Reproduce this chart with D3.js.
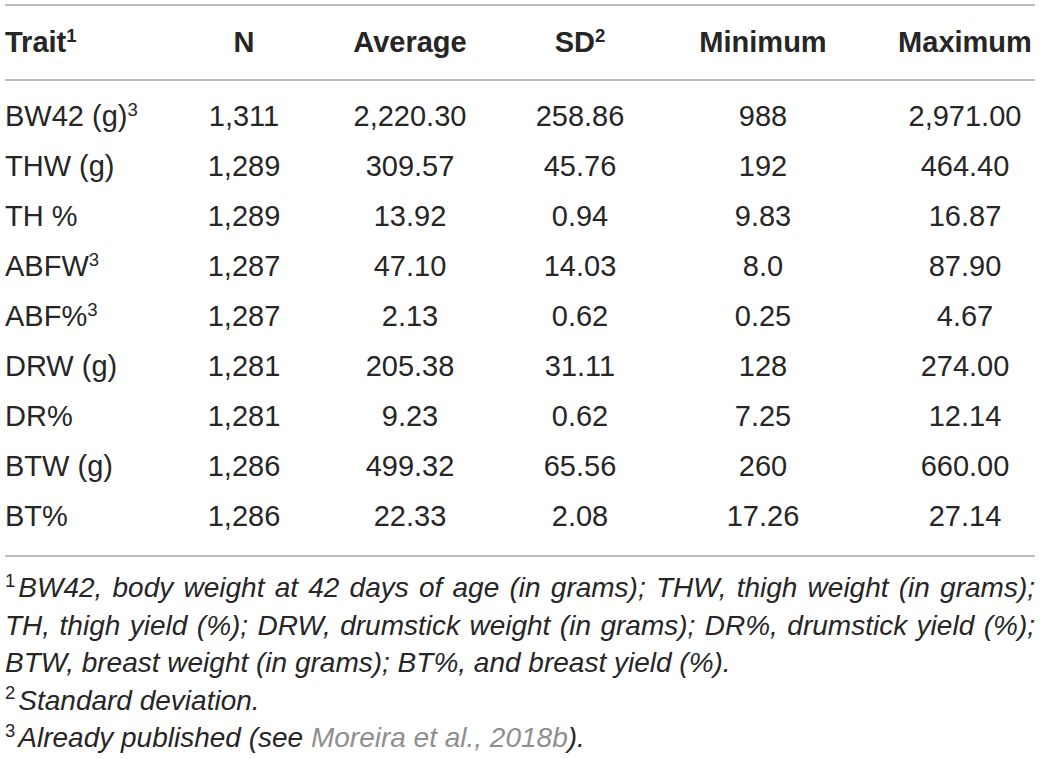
<!DOCTYPE html>
<html>
<head>
<meta charset="utf-8">
<script src="https://cdn.jsdelivr.net/npm/d3@7"></script>
<style>
  html, body { margin: 0; padding: 0; background: #fff; }
  svg text { font-family: "Liberation Sans", Arial, Helvetica, sans-serif; fill: #262626; }
</style>
</head>
<body>
<svg id="table" width="1040" height="759"></svg>
<script>
// table content
var headers = ['Trait', 'N', 'Average', 'SD', 'Minimum', 'Maximum'];
var headerNotes = ['1', '', '', '2', '', ''];

var traits = ['BW42 (g)', 'THW (g)', 'TH %', 'ABFW', 'ABF%', 'DRW (g)', 'DR%', 'BTW (g)', 'BT%'];
var traitNotes = ['3', '', '', '3', '3', '', '', '', ''];
var nValues = ['1,311', '1,289', '1,289', '1,287', '1,287', '1,281', '1,281', '1,286', '1,286'];
var averages = ['2,220.30', '309.57', '13.92', '47.10', '2.13', '205.38', '9.23', '499.32', '22.33'];
var sds = ['258.86', '45.76', '0.94', '14.03', '0.62', '31.11', '0.62', '65.56', '2.08'];
var minimums = ['988', '192', '9.83', '8.0', '0.25', '128', '7.25', '260', '17.26'];
var maximums = ['2,971.00', '464.40', '16.87', '87.90', '4.67', '274.00', '12.14', '660.00', '27.14'];

var footnotes = [
	{ mark: '1', text: 'BW42, body weight at 42 days of age (in grams); THW, thigh weight (in grams);', justify: true },
	{ mark: '', text: 'TH, thigh yield (%); DRW, drumstick weight (in grams); DR%, drumstick yield (%);', justify: true },
	{ mark: '', text: 'BTW, breast weight (in grams); BT%, and breast yield (%).', justify: false },
	{ mark: '2', text: 'Standard deviation.', justify: false },
	{ mark: '3', text: 'Already published (see ', link: 'Moreira et al., 2018b', after: ').', justify: false }
];

var left = 5,
	right = 1035,
	fontSize = 29,
	noteSize = 28;

var svg = d3.select('#table');

var columns = [traits, nValues, averages, sds, minimums, maximums];

// column centres, trait column is left aligned
var x = d3.scaleOrdinal()
	.domain(d3.range(headers.length))
	.range([left, 244, 410, 580, 763, 965]);

var y = d3.scalePoint()
	.domain(traits)
	.range([126, 526]);

var noteY = d3.scalePoint()
	.domain(d3.range(footnotes.length))
	.range([597, 747]);

// rules
var rules = [5, 80, 556];
svg.selectAll('line.rule')
	.data(rules)
	.enter()
	.append('line')
	.attr('class', 'rule')
	.attr('x1', left)
	.attr('x2', right)
	.attr('y1', function(d) { return d; })
	.attr('y2', function(d) { return d; })
	.attr('stroke', '#a6a6a6')
	.attr('stroke-width', 1.6);

// header
var head = svg.selectAll('text.head')
	.data(headers)
	.enter()
	.append('text')
	.attr('class', 'head')
	.attr('x', function(d, i) { return x(i); })
	.attr('y', 52)
	.attr('text-anchor', function(d, i) { return i === 0 ? 'start' : 'middle'; })
	.attr('font-size', fontSize)
	.attr('font-weight', 'bold');
head.append('tspan').text(function(d) { return d; });
head.filter(function(d, i) { return headerNotes[i] !== ''; })
	.append('tspan')
	.attr('dy', -fontSize * 0.36)
	.attr('font-size', fontSize * 0.64)
	.text(function(d) { return headerNotes[headers.indexOf(d)]; });

// body cells
columns.forEach(function(col, ci) {
	var cells = svg.selectAll('text.col' + ci)
		.data(col)
		.enter()
		.append('text')
		.attr('class', 'col' + ci)
		.attr('x', x(ci))
		.attr('y', function(d, i) { return y(traits[i]); })
		.attr('text-anchor', ci === 0 ? 'start' : 'middle')
		.attr('font-size', fontSize);
	cells.append('tspan').text(function(d) { return d; });
	if (ci === 0) {
		cells.filter(function(d, i) { return traitNotes[i] !== ''; })
			.append('tspan')
			.attr('dy', -fontSize * 0.36)
			.attr('font-size', fontSize * 0.64)
			.text(function(d) { return traitNotes[traits.indexOf(d)]; });
	}
});

// footnotes
var notes = svg.selectAll('text.note')
	.data(footnotes)
	.enter()
	.append('text')
	.attr('class', 'note')
	.attr('x', left)
	.attr('y', function(d, i) { return noteY(i); })
	.attr('font-size', noteSize);

notes.each(function(d) {
	var t = d3.select(this);
	if (d.mark) {
		t.append('tspan')
			.attr('dy', -noteSize * 0.36)
			.attr('font-size', noteSize * 0.66)
			.text(d.mark);
		t.append('tspan')
			.attr('dx', 3)
			.attr('dy', noteSize * 0.36)
			.attr('font-style', 'italic')
			.text(d.text);
	}
	else {
		t.append('tspan')
			.attr('font-style', 'italic')
			.text(d.text);
	}
	if (d.link) {
		t.append('tspan')
			.attr('font-style', 'italic')
			.style('fill', '#8f8f8f')
			.text(d.link);
		t.append('tspan')
			.attr('font-style', 'italic')
			.text(d.after);
	}
	if (d.justify) {
		var len = this.getComputedTextLength() + (d.mark ? 3 : 0);
		var spaces = d.text.split(' ').length - 1;
		var extra = (right - left - len) / spaces;
		t.style('word-spacing', extra + 'px');
	}
});
</script>
</body>
</html>
